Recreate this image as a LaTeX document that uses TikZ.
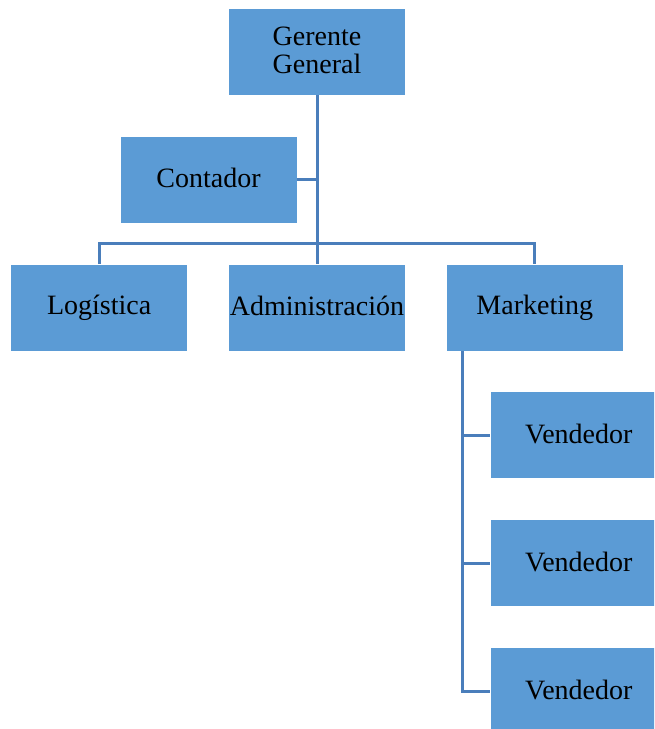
\documentclass[tikz,border=0pt]{standalone}
\usepackage{fontspec}
\setmainfont{Liberation Serif}
\usetikzlibrary{positioning}
\definecolor{boxblue}{RGB}{91,155,213}
\definecolor{lineblue}{RGB}{74,126,187}
\newcommand{\boxstrut}{\rule[-2pt]{0pt}{12pt}}
\tikzset{box/.style={fill=boxblue, minimum width=88pt, minimum height=43pt, inner sep=0pt, align=center, font=\fontsize{14}{14}\selectfont, execute at begin node=\boxstrut}}
\tikzset{conn/.style={draw=lineblue, line width=1.5pt}}

\begin{document}
\begin{tikzpicture}[x=0.5pt, y=0.5pt, node distance=20.5pt]
\clip (0,0) rectangle (654,-729);
\node (gerente) [box] at (317,-52) {Gerente\\General};
\node (contador) [box, below=of gerente, xshift=-54.25pt] {Contador};
\node (admin) [box, below=of contador, xshift=54.25pt] {Administración};
\node (logistica) [box, left=of admin] {Logística};
\node (marketing) [box, right=of admin] {Marketing};
\node (vend1) [box, below=of marketing, xshift=22pt] {Vendedor};
\node (vend2) [box, below=of vend1] {Vendedor};
\node (vend3) [box, below=of vend2] {Vendedor};
\path (admin.north) ++(0,21) coordinate (bus);
\coordinate (mk) at ([xshift=8pt]marketing.south west);
\path [conn] (gerente) -- (admin);
\path [conn] (contador) -- (contador.east -| gerente);
\path [conn] (logistica.north) |- (bus) -| (marketing.north);
\path [conn] (mk) |- (vend3.west);
\path [conn] (vend1.west -| mk) -- (vend1.west);
\path [conn] (vend2.west -| mk) -- (vend2.west);
\end{tikzpicture}
\end{document}
